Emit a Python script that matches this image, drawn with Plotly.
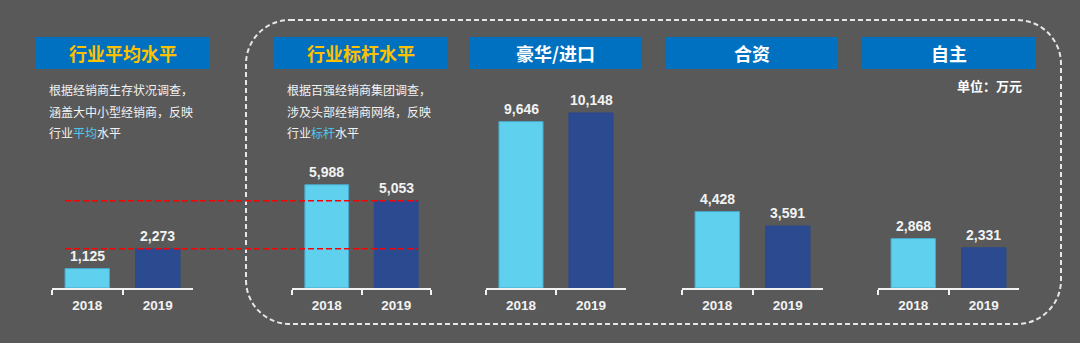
import plotly.graph_objects as go

# Data (万元)
years = ["2018", "2019"]
panel_titles = ["行业平均水平", "行业标杆水平", "豪华/进口", "合资", "自主"]
avg_values = [1125, 2273]
bench_values = [5988, 5053]
luxury_values = [9646, 10148]
jv_values = [4428, 3591]
local_values = [2868, 2331]
series = [avg_values, bench_values, luxury_values, jv_values, local_values]

note_avg = ["根据经销商生存状况调查，", "涵盖大中小型经销商，反映", "行业<span style='color:#4FC8F0'>平均</span>水平"]
note_bench = ["根据百强经销商集团调查，", "涉及头部经销商网络，反映", "行业<span style='color:#4FC8F0'>标杆</span>水平"]
unit_text = "单位：万元"

# Canvas and colours
W, H = 1080, 343
BG = "#595959"
LIGHT = "#5FD1EF"
DARK = "#2B4A8F"
HEADER = "#0070C0"
YELLOW = "#FFC000"
WHITE = "#F2F2F2"

CJK = "Noto Sans CJK SC"
NUM = "Liberation Sans, Arial, sans-serif"


def fx(px):
    return px / W


def fy(py):
    return 1 - py / H


BASE = 288          # baseline pixel row
SCALE = 0.01725     # pixels per 万元
TOP = 10
y_max = (BASE - TOP) / SCALE

axis_px = [(52, 193), (292, 431), (486, 626), (682, 823), (878, 1019)]
header_px = [(36, 209), (274, 447), (469, 642), (665, 838), (862, 1035)]

fig = go.Figure()

layout = dict(
    width=W, height=H,
    margin=dict(l=0, r=0, t=0, b=0),
    paper_bgcolor=BG, plot_bgcolor="rgba(0,0,0,0)",
    showlegend=False,
    yaxis=dict(domain=[fy(BASE), fy(TOP)], range=[0, y_max], visible=False, fixedrange=True),
)

annotations = []

for i, vals in enumerate(series):
    xa = "x" if i == 0 else f"x{i+1}"
    key = "xaxis" if i == 0 else f"xaxis{i+1}"
    fig.add_trace(go.Bar(
        x=years, y=vals, xaxis=xa, yaxis="y",
        marker=dict(color=[LIGHT, DARK], line=dict(color=["#4AA9C9", DARK], width=1)),
        width=0.63,
        hoverinfo="skip",
    ))
    # value labels above each bar (category index positions)
    for j, v in enumerate(vals):
        annotations.append(dict(xref=xa, yref="y", x=j, y=v, text=f"{v:,}",
                                showarrow=False, xanchor="center", yanchor="middle", yshift=13,
                                font=dict(family=NUM, size=14, color=WHITE, weight="bold")))
    x0, x1 = axis_px[i]
    layout[key] = dict(
        domain=[fx(x0), fx(x1)], anchor="y", range=[-0.5, 1.5],
        type="category", showgrid=False, zeroline=False,
        showline=True, linecolor=WHITE, linewidth=2,
        ticks="outside", tickson="boundaries", ticklen=5, tickwidth=2, tickcolor=WHITE,
        ticklabelstandoff=4,
        tickfont=dict(family=NUM, size=13.5, color=WHITE, weight="bold"),
        fixedrange=True,
    )

fig.update_layout(**layout)

shapes = []

# Header boxes
for (x0, x1), title, i in zip(header_px, panel_titles, range(5)):
    shapes.append(dict(type="rect", xref="paper", yref="paper",
                       x0=fx(x0), x1=fx(x1), y0=fy(69), y1=fy(37),
                       fillcolor=HEADER, line=dict(width=0), layer="below"))
    annotations.append(dict(xref="paper", yref="paper", x=fx((x0 + x1) / 2), y=fy(53),
                            text=title, showarrow=False, xanchor="center", yanchor="middle",
                            font=dict(family=CJK, size=18, weight="bold",
                                      color=YELLOW if i < 2 else "#FFFFFF")))

# Description notes
for lines, left in ((note_avg, 47), (note_bench, 285)):
    for k, line in enumerate(lines):
        annotations.append(dict(xref="paper", yref="paper", x=fx(left), y=fy(90 + 21 * k),
                                text=line, showarrow=False, xanchor="left", yanchor="middle",
                                font=dict(family=CJK, size=12, color=WHITE)))

annotations.append(dict(xref="paper", yref="paper", x=fx(1024), y=fy(85), text=unit_text,
                        showarrow=False, xanchor="right", yanchor="middle",
                        font=dict(family=CJK, size=13, weight="bold", color="#FFFFFF")))

# Reference lines at the 2019 industry average and benchmark levels
for lvl in (avg_values[1], bench_values[1]):
    shapes.append(dict(type="line", xref="paper", yref="y", x0=fx(65), x1=fx(417),
                       y0=lvl, y1=lvl, line=dict(color="#FF0000", width=1.5, dash="6px,3px")))

# Dashed rounded frame around the benchmark and segment panels
L, T, R, B, r = 246, 20, 1061, 324, 44
k = 0.5523 * r


def P(px, py):
    return f"{fx(px):.5f},{fy(py):.5f}"


path = (f"M {P(L + r, T)} L {P(R - r, T)} "
        f"C {P(R - r + k, T)} {P(R, T + r - k)} {P(R, T + r)} "
        f"L {P(R, B - r)} "
        f"C {P(R, B - r + k)} {P(R - r + k, B)} {P(R - r, B)} "
        f"L {P(L + r, B)} "
        f"C {P(L + r - k, B)} {P(L, B - r + k)} {P(L, B - r)} "
        f"L {P(L, T + r)} "
        f"C {P(L, T + r - k)} {P(L + r - k, T)} {P(L + r, T)} Z")
shapes.append(dict(type="path", xref="paper", yref="paper", path=path,
                   line=dict(color="#E6E6E6", width=2, dash="5px,3px"), layer="below"))

fig.update_layout(shapes=shapes, annotations=annotations)

fig.write_html("out.html", config={"displayModeBar": False})
